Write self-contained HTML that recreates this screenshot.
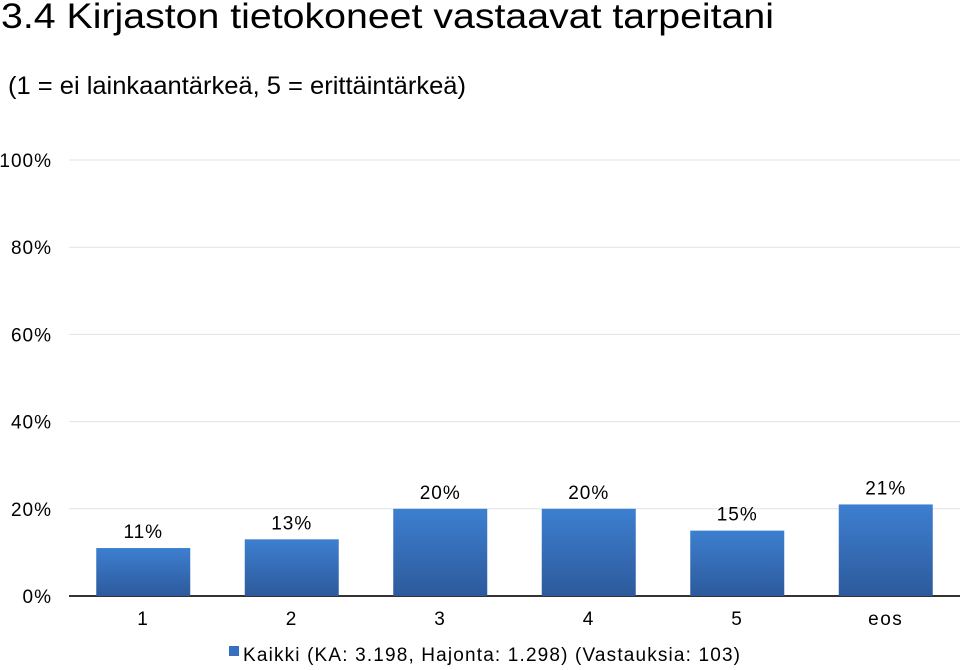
<!DOCTYPE html>
<html><head><meta charset="utf-8"><style>
body{margin:0;background:#fff;width:960px;height:665px;overflow:hidden;font-family:"Liberation Sans",sans-serif}
svg text{font-family:"Liberation Sans",sans-serif}
</style></head><body>
<svg width="960" height="665">
<defs><linearGradient id="g" x1="0" y1="0" x2="0" y2="1"><stop offset="0" stop-color="#3d7fd0"/><stop offset="1" stop-color="#2d5a9c"/></linearGradient></defs>
<text x="1" y="28" font-size="35" textLength="773" lengthAdjust="spacingAndGlyphs" fill="#000">3.4 Kirjaston tietokoneet vastaavat tarpeitani</text>
<text x="8" y="94" font-size="25" textLength="458" lengthAdjust="spacingAndGlyphs" fill="#000">(1 = ei lainkaantärkeä, 5 = erittäintärkeä)</text>
<g id="grid"></g><g id="bars"></g><g id="xl"></g>
<rect x="229" y="646" width="10" height="10" fill="#3670bf"/>
<text x="243" y="661" font-size="19" textLength="497" lengthAdjust="spacing">Kaikki (KA: 3.198, Hajonta: 1.298) (Vastauksia: 103)</text>
</svg>
<script>
const categories=["1","2","3","4","5","eos"];
const values=[11,13,20,20,15,21];
const ticks=[0,20,40,60,80,100];
const NS="http://www.w3.org/2000/svg";
const x0=69,x1=960,y0=596,y100=160;
const y=v=>y0-(y0-y100)*v/100;
const bw=(x1-x0)/categories.length;
function mk(t,a,p){const e=document.createElementNS(NS,t);for(const k in a)e.setAttribute(k,a[k]);p.appendChild(e);return e;}
const G=document.getElementById('grid'),B=document.getElementById('bars'),X=document.getElementById('xl');
ticks.forEach(t=>{
 const l=mk('line',{x1:x0,x2:x1,y1:y(t),y2:y(t),stroke:t===0?'#333':'#dde3ec','stroke-width':t===0?2:1},G);
 
 
 const tx=mk('text',{x:52,y:y(t)+7,'font-size':19,'text-anchor':'end','letter-spacing':1},G);tx.textContent=t+'%';
 
 
});
categories.forEach((c,i)=>{
 const cx=x0+bw*(i+0.5),w=94;
 const r=mk('rect',{x:cx-w/2,y:y(values[i]),width:w,height:y0-y(values[i]),fill:'url(#g)'},B);
 
 
 const v=mk('text',{x:cx,y:y(values[i])-10,'font-size':19,'text-anchor':'middle','letter-spacing':1},B);v.textContent=values[i]+'%';
 
 
 const t=mk('text',{x:cx,y:625,'font-size':19,'text-anchor':'middle','letter-spacing':1.5},X);t.textContent=c;
 
 
});
</script>
</body></html>
